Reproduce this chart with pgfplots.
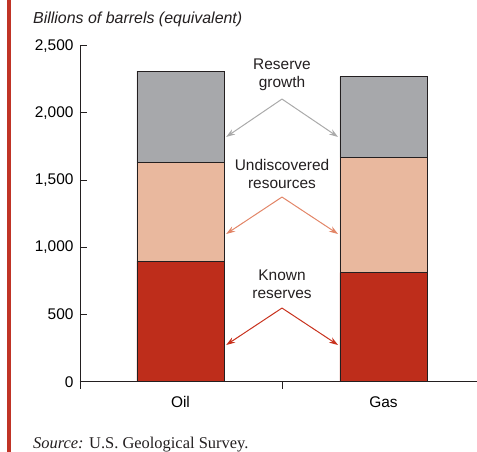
\documentclass[border=0pt]{standalone}
\usepackage{pgfplots}
\pgfplotsset{compat=1.18}
\usetikzlibrary{arrows.meta}
\usepackage{fontspec}
\setmainfont{Liberation Sans}
\newfontfamily\serif{Liberation Serif}

\definecolor{known}{RGB}{190,45,27}
\definecolor{undisc}{RGB}{233,184,158}
\definecolor{growth}{RGB}{167,168,171}
\definecolor{arrgray}{RGB}{170,170,170}
\definecolor{arrsalmon}{RGB}{226,134,104}
\definecolor{arrred}{RGB}{200,50,30}
\definecolor{stripe}{RGB}{192,52,38}
\definecolor{txt}{RGB}{35,31,32}

\begin{document}
\begin{tikzpicture}[font=\fontsize{15.5}{18}\selectfont\color{txt}]
    \useasboundingbox (-80bp,-70.3bp) rectangle (397bp,381.7bp);
    \fill[stripe] (-73bp,-70.3bp) rectangle (-69bp,381.7bp);

    \begin{axis}[
        scale only axis,
        width=397bp, height=336bp,
        xmin=-0.495, xmax=1.4606,
        ymin=0, ymax=2500,
        axis x line=bottom, axis y line=left,
        axis line style={-, draw=txt, line width=0.9bp},
        ybar stacked, bar width=87bp, bar shift=0pt,
        xtick={0,1}, xticklabels={Oil,Gas},
        x tick style={draw=none},
        xticklabel style={yshift=-11bp},
        ytick={0,500,1000,1500,2000,2500},
        y tick style={draw=txt, line width=0.9bp},
        major tick length=7bp,
        tick align=inside,
        yticklabel style={xshift=-3bp},
        /pgf/number format/1000 sep={,},
        /pgf/number format/assume math mode=true,
        tick label style={font=\fontsize{15.5}{18}\selectfont},
        clip=false,
    ]

    \addplot[fill=known, draw=txt, line width=0.9bp] coordinates {(0,898) (1,811)};
    \addplot[fill=undisc, draw=txt, line width=0.9bp] coordinates {(0,731) (1,859)};
    \addplot[fill=growth, draw=txt, line width=0.9bp] coordinates {(0,681) (1,599)};

    % x ticks below the axis
    \draw[txt, line width=0.9bp] (axis cs:0.5,0) -- ([yshift=-7.5bp]axis cs:0.5,0);
    \draw[txt, line width=0.9bp] (axis cs:-0.495,0) -- ([yshift=-7bp]axis cs:-0.495,0);

    % annotations
    \node[align=center, inner sep=0pt] at (axis cs:0.5,2282) {Reserve\\growth};
    \draw[arrgray, line width=1bp, -{Stealth[length=9bp,width=6bp]}]
        (axis cs:0.5,2103) -- (axis cs:0.225,1821);
    \draw[arrgray, line width=1bp, -{Stealth[length=9bp,width=6bp]}]
        (axis cs:0.5,2103) -- (axis cs:0.776,1821);

    \node[align=center, inner sep=0pt] at (axis cs:0.5,1545) {Undiscovered\\resources};
    \draw[arrsalmon, line width=1bp, -{Stealth[length=9bp,width=6bp]}]
        (axis cs:0.5,1374) -- (axis cs:0.225,1099);
    \draw[arrsalmon, line width=1bp, -{Stealth[length=9bp,width=6bp]}]
        (axis cs:0.5,1374) -- (axis cs:0.776,1099);

    \node[align=center, inner sep=0pt] at (axis cs:0.5,727) {Known\\reserves};
    \draw[arrred, line width=1bp, -{Stealth[length=9bp,width=6bp]}]
        (axis cs:0.5,548) -- (axis cs:0.225,273);
    \draw[arrred, line width=1bp, -{Stealth[length=9bp,width=6bp]}]
        (axis cs:0.5,548) -- (axis cs:0.776,273);
    \end{axis}

    \node[anchor=base west, inner sep=0pt] at (-47bp,357.7bp)
        {\fontsize{16}{18}\selectfont\itshape Billions of barrels (equivalent)};
    \node[anchor=base west, inner sep=0pt] at (-47bp,-66.3bp)
        {\serif\fontsize{16.5}{18}\selectfont\textit{Source:} U.S. Geological Survey.};
\end{tikzpicture}
\end{document}
